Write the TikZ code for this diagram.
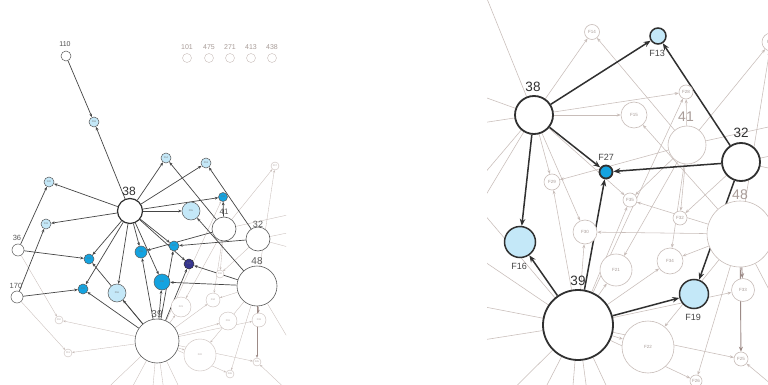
\documentclass[tikz,border=0pt]{standalone}
\usepackage{fontspec}
\setmainfont{Liberation Sans}
\usetikzlibrary{arrows.meta}
\pgfdeclarelayer{back}
\pgfdeclarelayer{bg}
\pgfsetlayers{back,bg,main}
\definecolor{dk}{HTML}{303030}
\definecolor{md}{HTML}{5A5A5A}
\definecolor{fnt}{HTML}{C8BDB9}
\definecolor{fntt}{HTML}{A89C98}
\definecolor{lb}{HTML}{C4E8F8}
\definecolor{bl}{HTML}{14A3E0}
\definecolor{nv}{HTML}{36358F}
\definecolor{brn}{HTML}{9C8A86}
\tikzset{
  nd/.style={circle,inner sep=0pt,minimum size={2*#1pt},fill=white},
  bigL/.style={draw=dk,line width=1.2pt},
  medL/.style={draw=md,line width=0.6pt},
  whL/.style={draw=md,line width=0.5pt},
  lbL/.style={fill=lb,draw=md,line width=0.5pt},
  blL/.style={fill=bl,draw=md,line width=0.5pt},
  nvL/.style={fill=nv,draw=dk,line width=0.5pt},
  fnL/.style={draw=fnt,line width=0.4pt},
  tinyD/.style={font=\fontsize{2.4}{3}\selectfont,text=dk!70},
  tinyF/.style={font=\fontsize{2.4}{3}\selectfont,text=fntt},
  bigR/.style={draw=dk,line width=1.8pt},
  fnR/.style={draw=fnt,line width=0.6pt,font=\fontsize{4.5}{5}\selectfont,text=fntt},
  lbR/.style={fill=lb,draw=dk,line width=1.5pt},
  blR/.style={fill=bl,draw=dk,line width=1.8pt},
  lab/.style={inner sep=0pt,text=#1},
  deL/.style={draw=dk!90,line width=0.7pt,-{Stealth[length=3.5pt,width=2.8pt]}},
  feL/.style={draw=fnt,line width=0.35pt,-{Stealth[length=2.5pt,width=2pt]}},
  meL/.style={draw=brn,line width=0.5pt,-{Stealth[length=3pt,width=2.4pt]}},
  seL/.style={draw=fnt,line width=0.35pt},
  deR/.style={draw=dk,line width=1.5pt,-{Stealth[length=7pt,width=5.5pt]}},
  feR/.style={draw=fnt,line width=0.55pt,-{Stealth[length=4pt,width=3pt]}},
  meR/.style={draw=brn,line width=0.9pt,-{Stealth[length=5pt,width=4pt]}},
  seR/.style={draw=fnt,line width=0.55pt}
}
\begin{document}
\begin{tikzpicture}[x=1pt,y=-1pt]
\useasboundingbox (0,0) rectangle (768,385);
\begin{pgfonlayer}{back}
\fill[white] (0,0) rectangle (768,385);
\end{pgfonlayer}

% ================= LEFT PANEL =================
\node[nd=5,whL] (a110) at (66,56) {};
\node[lab=dk!85,font=\fontsize{7}{7}\selectfont] (t110) at (65,44) {110};
\node[nd=5,lbL,tinyD] (aLa) at (94,122) {F18};
\foreach \n/\x in {101/187,475/209,271/230,413/251,438/272}{
  \node[nd=4.5,fnL] (aT\n) at (\x,58) {};
  \node[lab=fntt,font=\fontsize{7}{7}\selectfont] (tT\n) at (\x,47) {\n};
}
\node[nd=5,lbL,tinyD] (aF14) at (166,158) {F14};
\node[nd=5,lbL,tinyD] (aF13) at (206,163) {F13};
\node[nd=4,fnL,tinyF] (aF17) at (275,166) {F17};
\node[nd=5,lbL,tinyD] (aLb) at (49,182) {F20};
\node[nd=5,lbL,tinyD] (aLc) at (46,224) {F31};
\node[nd=12.5,bigL] (a38) at (130,211) {};
\node[lab=dk,font=\fontsize{12}{12}\selectfont] (t38) at (129,191) {38};
\node[nd=9,lbL,tinyD] (aF15) at (191,211) {F15};
\node[nd=4.5,blL,tinyD] (aF28) at (223,197) {F28};
\node[nd=12,medL] (a41) at (224,229) {};
\node[lab=md,font=\fontsize{8}{8}\selectfont] (t41) at (224,212) {41};
\node[nd=12,medL] (a32) at (258,239) {};
\node[lab=md,font=\fontsize{9}{9}\selectfont] (t32) at (258,224) {32};
\node[nd=5,blL,tinyD] (aF27) at (174,246) {F27};
\node[nd=6,blL,tinyD] (aF29) at (141,252) {F29};
\node[nd=5,nvL,tinyD] (aF35) at (189,264) {F35};
\node[nd=5,blL,tinyD] (aF23) at (89,259) {F23};
\node[nd=6,whL] (a36) at (18,250) {};
\node[lab=md,font=\fontsize{7.5}{7.5}\selectfont] (t36) at (17,238) {36};
\node[nd=20,medL] (a48) at (257,286) {};
\node[lab=md,font=\fontsize{10}{10}\selectfont] (t48) at (257,261) {48};
\node[nd=8,blL,tinyD] (aF30) at (162,282) {F30};
\node[nd=9,lbL,tinyD] (aF16) at (117,293) {F16};
\node[nd=5,blL,tinyD] (aF24) at (83,289) {F24};
\node[nd=6,whL] (a170) at (17,297) {};
\node[lab=md,font=\fontsize{7.5}{7.5}\selectfont] (t170) at (16,286) {170};
\node[nd=22,medL] (a39) at (157,341) {};
\node[lab=md,font=\fontsize{10}{10}\selectfont] (t39) at (157,314) {39};
\node[nd=4,fnL,tinyF] (aF32) at (220,274) {F32};
\node[nd=10,fnL,tinyF] (aF21) at (181,307) {F21};
\node[nd=7,fnL,tinyF] (aF34) at (213,300) {F34};
\node[nd=9,fnL,tinyF] (aF19) at (228,321) {F19};
\node[nd=7,fnL,tinyF] (aF33) at (259,320) {F33};
\node[nd=16,fnL,tinyF] (aF22) at (200,355) {F22};
\node[nd=4,fnL,tinyF] (aF25) at (257,362) {F25};
\node[nd=4,fnL,tinyF] (aF26) at (230,374) {F26};
\node[nd=4,fnL,tinyF] (aLd) at (59,320) {F10};
\node[nd=4,fnL,tinyF] (aLe) at (68,353) {F11};
\coordinate (aB1) at (95,400);
\coordinate (aB2) at (120,410);
\coordinate (aB3) at (150,420);
\coordinate (aB4) at (168,420);
\coordinate (aB5) at (190,410);
\coordinate (aR1) at (292,232);
\coordinate (aR2) at (292,248);
\coordinate (aR3) at (292,214);
\coordinate (aR4) at (292,345);
\coordinate (aR5) at (292,395);

\begin{pgfonlayer}{bg}
\begin{scope}
\clip (0,0) rectangle (286,385);
\foreach \s/\t in {a39/aB1,a39/aB2,a39/aB3,a39/aB4,a39/aB5,a32/aR1,a32/aR2,a41/aR3,a48/aR4}
  \draw[seL] (\s) -- (\t);
\foreach \s/\t in {a36/aLd,a170/aLe,a39/aLd,a39/aLe,a41/aF32,a41/aF21,a41/aF34,a41/aF17,a48/aF17,
  a48/aF34,a48/aF22,a48/aF26,a32/aF32,a39/aF21,a39/aF34,a39/aF19,a39/aF33,a39/aF25,a39/aF26,
  a39/aF28,a39/aF22,aR5/aF25}
  \draw[feL] (\s) -- (\t);
\foreach \s/\t in {a48/aF33,a48/aF25}
  \draw[meL] (\s) -- (\t);
\foreach \s/\t in {a110/aLa,a38/aLa,a38/aLb,a36/aLb,a38/aLc,a170/aLc,a36/aF23,a170/aF24,a38/aF23,
  a38/aF24,a38/aF16,a38/aF29,a38/aF30,a38/aF27,a38/aF35,a38/aF15,a38/aF28,a38/aF14,a38/aF13,
  a39/aF24,a39/aF23,a39/aF16,a39/aF29,a39/aF30,a39/aF27,a39/aF35,a48/aF30,a48/aF35,a48/aF15,
  a32/aF27,a32/aF13,a41/aF29,a41/aF28,a41/aF14}
  \draw[deL] (\s) -- (\t);
\end{scope}
\end{pgfonlayer}

% ================= RIGHT PANEL =================
\node[nd=19,bigR] (b38) at (534,115) {};
\node[lab=dk,font=\fontsize{13.5}{13.5}\selectfont] (u38) at (533,87) {38};
\node[nd=19,fnR] (b41) at (687,145) {};
\node[lab=fntt,font=\fontsize{14}{14}\selectfont] (u41) at (686,117) {41};
\node[nd=33,fnR] (b48) at (740,234) {};
\node[lab=fntt,font=\fontsize{14}{14}\selectfont] (u48) at (740,195) {48};
\node[nd=19,bigR] (b32) at (741,162) {};
\node[lab=dk,font=\fontsize{13.5}{13.5}\selectfont] (u32) at (741,133) {32};
\node[nd=35,bigR] (b39) at (578,325) {};
\node[lab=dk,font=\fontsize{13.5}{13.5}\selectfont] (u39) at (578,281) {39};
\node[nd=8,lbR] (bF13) at (658,36) {};
\node[lab=dk!90,font=\fontsize{9}{9}\selectfont] (uF13) at (657,53.5) {F13};
\node[nd=7.5,fnR] (bF14) at (592,32) {F14};
\node[nd=13,fnR] (bF15) at (634,115) {F15};
\node[nd=7,fnR] (bF28) at (686,92) {F28};
\node[nd=6.5,blR] (bF27) at (606,172) {};
\node[lab=dk!90,font=\fontsize{9}{9}\selectfont] (uF27) at (606,157.5) {F27};
\node[nd=8,fnR] (bF29) at (552,182) {F29};
\node[nd=7,fnR] (bF35) at (630,200) {F35};
\node[nd=7,fnR] (bF32) at (680,218) {F32};
\node[nd=12,fnR] (bF30) at (585,232) {F30};
\node[nd=16,fnR] (bF21) at (616,270) {F21};
\node[nd=13,fnR] (bF34) at (670,261) {F34};
\node[nd=15.5,lbR] (bF16) at (520,242) {};
\node[lab=dk!90,font=\fontsize{9}{9}\selectfont] (uF16) at (519,266) {F16};
\node[nd=14.5,lbR] (bF19) at (694,294) {};
\node[lab=dk!90,font=\fontsize{9}{9}\selectfont] (uF19) at (693,317) {F19};
\node[nd=11.5,fnR] (bF33) at (743,290) {F33};
\node[nd=26,fnR] (bF22) at (648,347) {F22};
\node[nd=7,fnR] (bF25) at (741,359) {F25};
\node[nd=6,fnR] (bF26) at (696,381) {F26};
\node[nd=9,fnR] (bF17) at (771,42) {F17};
\coordinate (bLa) at (475,-31);
\coordinate (bLb) at (401,67);
\coordinate (bLc) at (396,136);
\coordinate (bF23) at (467,194);
\coordinate (bF24) at (457,243);
\coordinate (bLd) at (418,294);
\coordinate (bLe) at (432,348);
\coordinate (bB1) at (477,425);
\coordinate (bB2) at (518,441);
\coordinate (bB3) at (567,458);
\coordinate (bB4) at (596,458);
\coordinate (bB5) at (632,441);
\coordinate (bR1) at (800,150);
\coordinate (bR2) at (800,175);
\coordinate (bR3) at (800,120);
\coordinate (bR4) at (790,330);
\coordinate (bR5) at (790,400);

\begin{pgfonlayer}{bg}
\begin{scope}
\clip (487,0) rectangle (768,385);
\foreach \s/\t in {b38/bLa,b38/bLb,b38/bLc,b38/bF23,b38/bF24,b39/bF23,b39/bF24,b39/bLd,b39/bLe,
  b39/bB1,b39/bB2,b39/bB3,b39/bB4,b39/bB5,b41/bR3,b32/bR1,b32/bR2,b48/bR4}
  \draw[seR] (\s) -- (\t);
\foreach \s/\t in {b38/bF14,b38/bF15,b38/bF28,b38/bF29,b38/bF30,b38/bF35,b41/bF28,b39/bF28,
  b41/bF29,b41/bF35,b41/bF21,b41/bF34,b41/bF32,b41/bF17,b41/bF14,b48/bF17,b48/bF15,b48/bF35,
  b48/bF30,b48/bF34,b48/bF22,b48/bF26,b32/bF32,b39/bF29,b39/bF30,b39/bF35,b39/bF21,b39/bF34,
  b39/bF33,b39/bF25,b39/bF26,b39/bF22,bR5/bF25}
  \draw[feR] (\s) -- (\t);
\foreach \s/\t in {b48/bF33,b48/bF25}
  \draw[meR] (\s) -- (\t);
\foreach \s/\t in {b38/bF13,b32/bF13,b38/bF27,b32/bF27,b39/bF27,b38/bF16,b39/bF16,b39/bF19,b32/bF19}
  \draw[deR] (\s) -- (\t);
\end{scope}
\end{pgfonlayer}
\end{tikzpicture}
\end{document}
